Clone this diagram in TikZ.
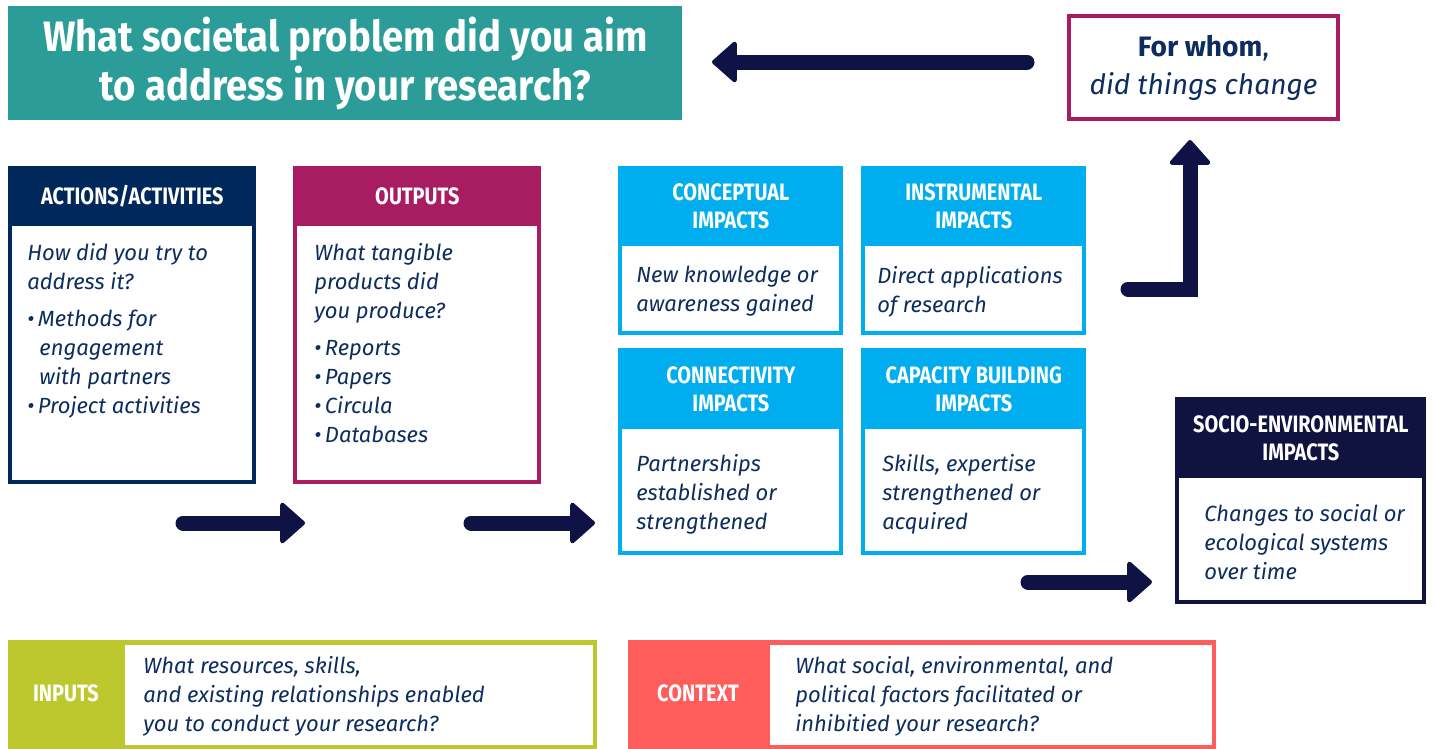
\documentclass[tikz,border=0pt]{standalone}
\usepackage{fontspec}
\setmainfont{Fira Sans}
\newfontfamily\headfont{Fira Sans}[FakeStretch=0.84]
\newfontfamily\titlefont{Fira Sans}[FakeStretch=0.9]
\usetikzlibrary{arrows.meta,positioning}

\definecolor{probteal}{HTML}{2B9C98}
\definecolor{actnavy}{HTML}{00285A}
\definecolor{outplum}{HTML}{A81C62}
\definecolor{impblue}{HTML}{00AEEF}
\definecolor{socnavy}{HTML}{10123F}
\definecolor{inolive}{HTML}{BCC82E}
\definecolor{ctxcoral}{HTML}{FF5C5C}
\definecolor{arrnavy}{HTML}{0F1245}
\definecolor{txtnavy}{HTML}{0D2D5E}

\tikzset{
  frame/.style={draw=#1, line width=0.8mm, fill=white, anchor=north west,
    inner sep=0pt, outer sep=0pt},
  head/.style={fill=#1, text=white, anchor=north west, inner sep=0pt,
    align=center, font=\headfont\bfseries\fontsize{13.5}{16}\selectfont},
  body/.style={anchor=north west, inner sep=0pt, align=left, text=txtnavy,
    font=\itshape\fontsize{12.5}{16.4}\selectfont},
  flow/.style={draw=arrnavy, line width=0.3cm, line cap=round,
    -{Triangle[round,length=0.52cm,width=0.9cm,line width=2.5pt]}},
}

\begin{document}
\begin{tikzpicture}[x=0.02cm,y=-0.02cm]
\useasboundingbox (0,0) rectangle (1435,748);

% problem statement
\node[fill=probteal, text=white, anchor=north west, minimum width=13.48cm,
  minimum height=2.28cm, align=center,
  font=\titlefont\bfseries\fontsize{24.2}{27.5}\selectfont] (prob) at (8,6)
  {What societal problem did you aim\\to address in your research?};

\node[frame=outplum, minimum width=5.38cm, minimum height=2.06cm, align=center,
  text=txtnavy, font=\fontsize{16}{21.5}\selectfont] (whom) at (1069,16)
  {\textbf{For whom},\\\itshape did things change};

% actions and outputs
\node[frame=actnavy, minimum width=4.88cm, minimum height=6.28cm] (act) at (10,168) {};
\node[head=actnavy, minimum width=4.96cm, minimum height=1.2cm] (acth) at (8,166) {ACTIONS/ACTIVITIES};
\node[body] (actb) at (27,243) {How did you try to\\address it?\\[5pt]
  \textbullet\,Methods for\\\hspace*{0.55em}engagement\\\hspace*{0.55em}with partners\\
  \textbullet\,Project activities};

\node[frame=outplum, minimum width=4.88cm, minimum height=6.28cm] (out) at (295,168) {};
\node[head=outplum, minimum width=4.96cm, minimum height=1.2cm] (outh) at (293,166) {OUTPUTS};
\node[body] (outb) at (314,243) {What tangible\\products did\\you produce?\\[5pt]
  \textbullet\,Reports\\\textbullet\,Papers\\\textbullet\,Circula\\\textbullet\,Databases};

% impacts
\node[frame=impblue, minimum width=4.42cm, minimum height=3.30cm] (conc) at (620,168) {};
\node[head=impblue, minimum width=4.5cm, minimum height=1.6cm] (conch) at (618,166) {CONCEPTUAL\\IMPACTS};
\node[body] (concb) at (636,266) {New knowledge or\\awareness gained};

\node[frame=impblue, minimum width=4.42cm, minimum height=3.30cm] (inst) at (863,168) {};
\node[head=impblue, minimum width=4.5cm, minimum height=1.6cm] (insth) at (861,166) {INSTRUMENTAL\\IMPACTS};
\node[body] (instb) at (877,266) {Direct applications\\of research};

\node[frame=impblue, minimum width=4.42cm, minimum height=4.06cm] (conn) at (620,350) {};
\node[head=impblue, minimum width=4.5cm, minimum height=1.62cm] (connh) at (618,348) {CONNECTIVITY\\IMPACTS};
\node[body] (connb) at (636,454) {Partnerships\\established or\\strengthened};

\node[frame=impblue, minimum width=4.42cm, minimum height=4.06cm] (capa) at (863,350) {};
\node[head=impblue, minimum width=4.5cm, minimum height=1.62cm] (capah) at (861,348) {CAPACITY BUILDING\\IMPACTS};
\node[body] (capab) at (882,454) {Skills, expertise\\strengthened or\\acquired};

\node[frame=socnavy, minimum width=4.94cm, minimum height=4.06cm] (soc) at (1177,399) {};
\node[head=socnavy, minimum width=5.02cm, minimum height=1.62cm] (soch) at (1175,397) {SOCIO-ENVIRONMENTAL\\IMPACTS};
\node[body] (socb) at (1204,504) {Changes to social or\\ecological systems\\over time};

% inputs and context
\node[fill=inolive, anchor=north west, minimum width=11.78cm, minimum height=2.2cm, inner sep=0pt] (inp) at (8,640) {};
\node[fill=white, anchor=north west, minimum width=9.36cm, minimum height=2.0cm, inner sep=0pt] (inpw) at (125,645) {};
\node[text=white, font=\headfont\bfseries\fontsize{13.5}{16}\selectfont] (inpl) at (66,693) {INPUTS};
\node[body] (inpb) at (143,656) {What resources, skills,\\and existing relationships enabled\\you to conduct your research?};

\node[fill=ctxcoral, anchor=north west, minimum width=11.76cm, minimum height=2.2cm, inner sep=0pt] (ctx) at (628,640) {};
\node[fill=white, anchor=north west, minimum width=8.84cm, minimum height=2.0cm, inner sep=0pt] (ctxw) at (770,645) {};
\node[text=white, font=\headfont\bfseries\fontsize{13.5}{16}\selectfont] (ctxl) at (698,693) {CONTEXT};
\node[body] (ctxb) at (795,656) {What social, environmental, and\\political factors facilitated or\\inhibitied your research?};

% arrows
\coordinate (backs) at (1027,62);
\coordinate (backe) at (712,62);
\coordinate (ups) at (1128,289);
\coordinate (upc) at (1190,289);
\coordinate (upe) at (1190,140);
\coordinate (r1s) at (183,523);
\coordinate (r1e) at (305,523);
\coordinate (r2s) at (471,523);
\coordinate (r2e) at (595,523);
\coordinate (r3s) at (1028,582);
\coordinate (r3e) at (1152,582);

\draw[flow] (backs) -- (backe);
\draw[flow, line join=miter] (ups) -- (upc) -- (upe);
\draw[flow] (r1s) -- (r1e);
\draw[flow] (r2s) -- (r2e);
\draw[flow] (r3s) -- (r3e);
\end{tikzpicture}
\end{document}
